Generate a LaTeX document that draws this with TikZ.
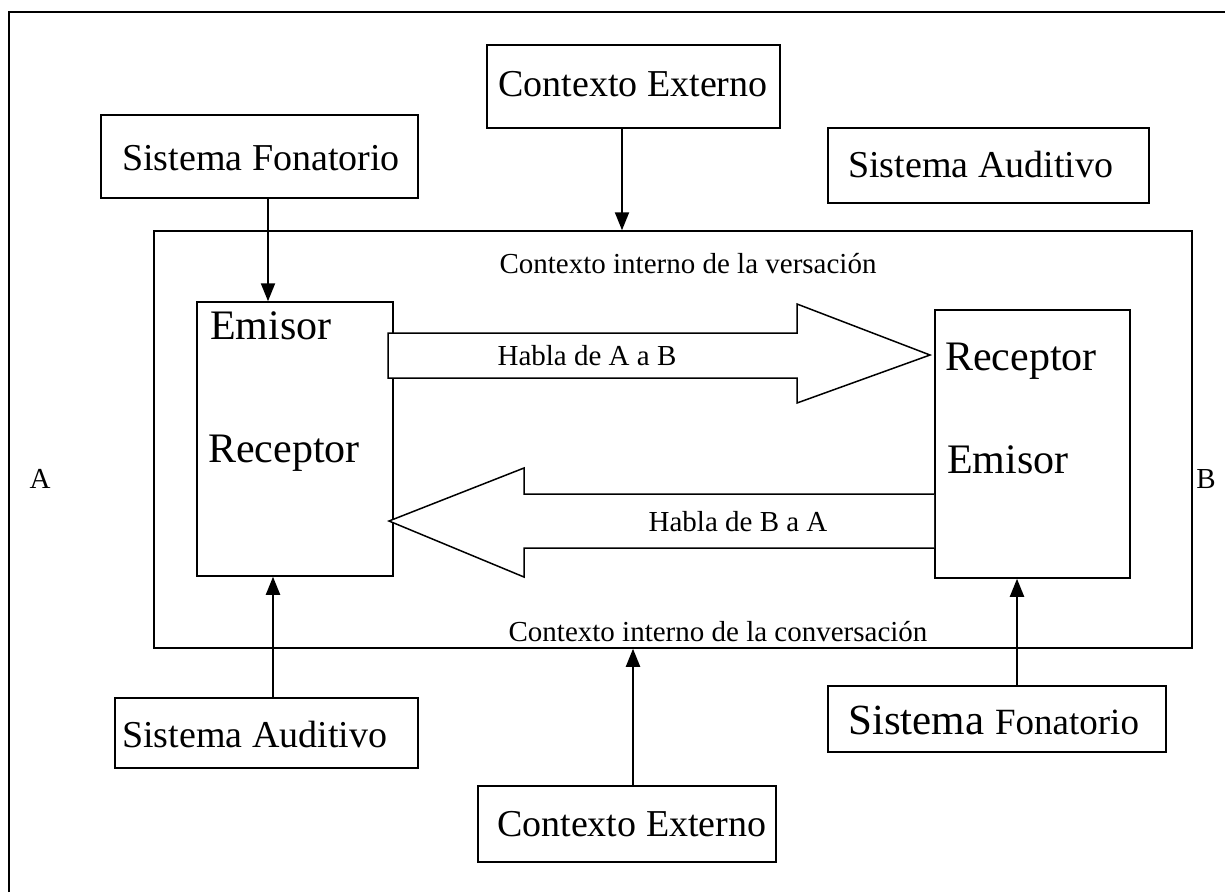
\documentclass[tikz,border=0pt]{standalone}
\usepackage{fontspec}
\setmainfont{Liberation Serif}
\usetikzlibrary{arrows.meta}
\begin{document}
\begin{tikzpicture}[x=1pt,y=-1pt,
  box/.style={draw, line width=1.5pt, inner sep=0pt, rectangle},
  conn/.style={line width=2pt, -{Triangle[length=18pt,width=14pt]}},
  bigarrow/.style={draw, line width=1.5pt, line join=miter, fill=white},
  txt/.style={inner sep=0pt, anchor=base},
  txtw/.style={inner sep=0pt, anchor=base west},
  big/.style={font=\fontsize{42}{48}\selectfont},
  mid/.style={font=\fontsize{38}{44}\selectfont},
  small/.style={font=\fontsize{29}{34}\selectfont}]
\useasboundingbox (0,0) rectangle (1225,892);
% outer frame (top and left only visible)
\draw[line width=2.5pt] (9,892) -- (9,12) -- (1225,12);
% boxes
\node[box, minimum width=293pt, minimum height=83pt] (cetop) at (633.5,86.5) {};
\node[box, minimum width=317pt, minimum height=83pt] (sftop) at (259.5,156.5) {};
\node[box, minimum width=321pt, minimum height=75pt] (satop) at (988.5,165.5) {};
\node[box, minimum width=1038pt, minimum height=417pt] (ctx) at (673,439.5) {};
\node[box, minimum width=196pt, minimum height=274pt] (left) at (295,439) {};
\node[box, minimum width=195pt, minimum height=268pt] (right) at (1032.5,444) {};
\node[box, minimum width=303pt, minimum height=70pt] (sabot) at (266.5,733) {};
\node[box, minimum width=298pt, minimum height=76pt] (cebot) at (627,824) {};
\node[box, minimum width=338pt, minimum height=66pt] (sfbot) at (997,719) {};
% texts
\node[txt, mid] (tcetop) at (633,96) {Contexto Externo};
\node[txtw, mid] (tsftop) at (122,170) {Sistema Fonatorio};
\node[txtw, mid] (tsatop) at (848,177) {Sistema Auditivo};
\node[txt, small] (tver) at (688,273) {Contexto interno de la versación};
\node[txt, small] (tcon) at (718,641) {Contexto interno de la conversación};
\node[txtw, big] (tle) at (210,339) {Emisor};
\node[txtw, big] (tlr) at (208,462) {Receptor};
\node[txtw, big] (trr) at (945,370) {Receptor};
\node[txtw, big] (tre) at (947,473) {Emisor};
\node[txtw, mid] (tsabot) at (122,747) {Sistema Auditivo};
\node[txtw, mid] (tcebot) at (497,836) {Contexto Externo};
\node[txtw] (tsfbot) at (848,734) {\fontsize{43}{48}\selectfont Sistema \fontsize{37}{44}\selectfont Fonatorio};
\node[txt, small] (tA) at (40,488) {A};
\node[txt, small] (tB) at (1206,488) {B};
% block arrows
\draw[bigarrow] (388,333) -- (797,333) -- (797,304) -- (930,355) -- (797,403) -- (797,378) -- (388,378) -- cycle;
\draw[bigarrow] (934,494) -- (524,494) -- (524,468) -- (389,521) -- (524,577) -- (524,548) -- (934,548);
\node[txt, small] (tab) at (587,365) {Habla de A a B};
\node[txt, small] (tba) at (738,531) {Habla de B a A};
% connectors
\draw[conn] (cetop.south -| 622,0) -- (ctx.north -| 622,0);
\draw[conn] (sftop.south -| 268,0) -- (left.north -| 268,0);
\draw[conn] (sabot.north -| 273,0) -- (left.south -| 273,0);
\draw[conn] (cebot.north -| 633,0) -- (ctx.south -| 633,0);
\draw[conn] (sfbot.north -| 1017,0) -- (right.south -| 1017,0);
\end{tikzpicture}
\end{document}
